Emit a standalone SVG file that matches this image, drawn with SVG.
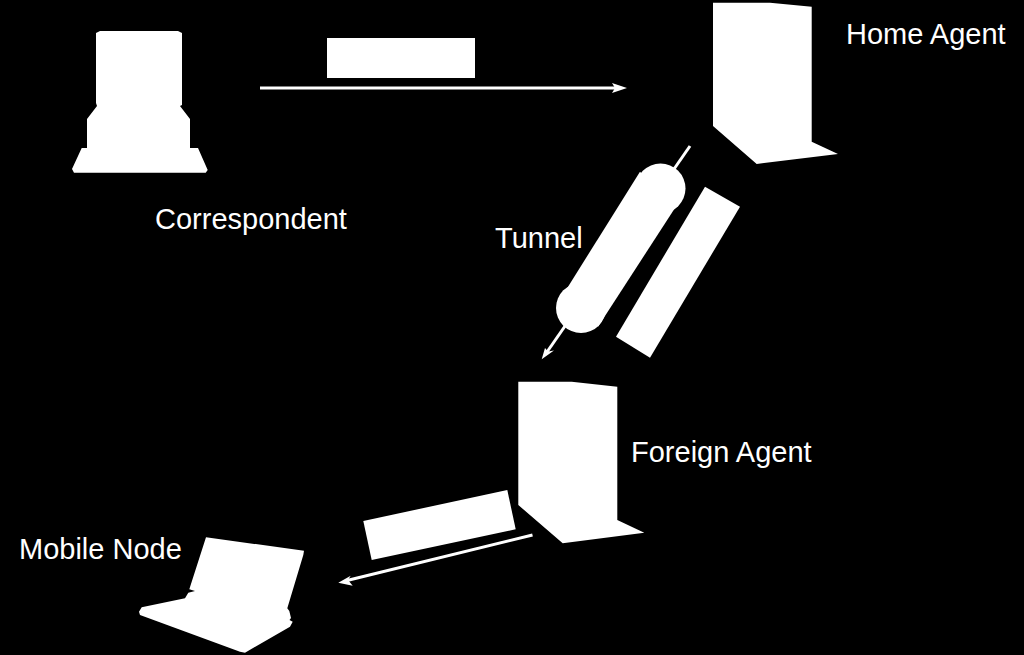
<svg xmlns="http://www.w3.org/2000/svg" width="1024" height="655" viewBox="0 0 1024 655">
<style>
.s{fill:#fff;stroke:none}
.t{font-family:"Liberation Sans",Arial,sans-serif;font-size:29px;fill:#fff}
.l{stroke:#fff;stroke-width:3;fill:none}
.a{fill:#fff;stroke:none}
</style>
<rect width="1024" height="655" fill="#000"/>
<g id="connectors">
<path class="l" d="M260 88H616"/><path class="a" d="M627 88L612 83L615 88L612 93Z"/>
<path class="l" d="M690 146L547 352"/><path class="a" d="M541.700 359.300L545 348L548 351.500L554 350.500Z"/>
<path class="l" d="M532.500 535L347 580.500"/><path class="a" d="M338.300 582.700L350.700 575.700L348 580L352.700 585.700Z"/>
</g>
<g id="correspondent"><path class="s" d="M96 33L100 31H178L182 33V105L180 106L190 119V148H198L207.700 170L205.700 172.700H74L72 169L81.700 148H87V119L97 106L96 103Z"/><text class="t" x="155" y="229">Correspondent</text></g>
<g id="home-agent"><path class="s" d="M713 2.700H770L811.700 6.700V141.700L838 154L756.700 164L713 126Z"/><text class="t" x="846" y="44">Home Agent</text></g>
<g id="foreign-agent"><path class="s" d="M518.300 381.700H571.700L617.300 386.700V520L644.300 532.700L562.700 543.300L518.300 505Z"/><text class="t" x="631" y="462">Foreign Agent</text></g>
<g id="mobile-node"><path class="s" d="M206 537.300L304 550.700L303.300 555L287.300 608.300L289.300 611L291 618L289.500 620L292.700 621.700L290 626.700L245 652.700L240 651.700L140 615L139 611.700L141.700 607.300L185 598.300L188.300 592.700L195 591L189.300 589.300Z"/><text class="t" x="19" y="559">Mobile Node</text></g>
<g id="packet-top"><rect class="s" x="327" y="38" width="148" height="40"/></g>
<g id="tunnel"><path class="s" d="M640 171.700L675 208L598 326.700L566 290Z"/><circle class="s" cx="660.500" cy="188.500" r="25"/><circle class="s" cx="581" cy="308" r="25"/><text class="t" x="495" y="248">Tunnel</text></g>
<g id="packet-tunnel"><path class="s" d="M705 186.700L740 206.700L650 357.700L616 336.700Z"/></g>
<g id="packet-bottom"><path class="s" d="M363.300 521L507.300 490L515.700 529.300L371.700 560Z"/></g>
</svg>
